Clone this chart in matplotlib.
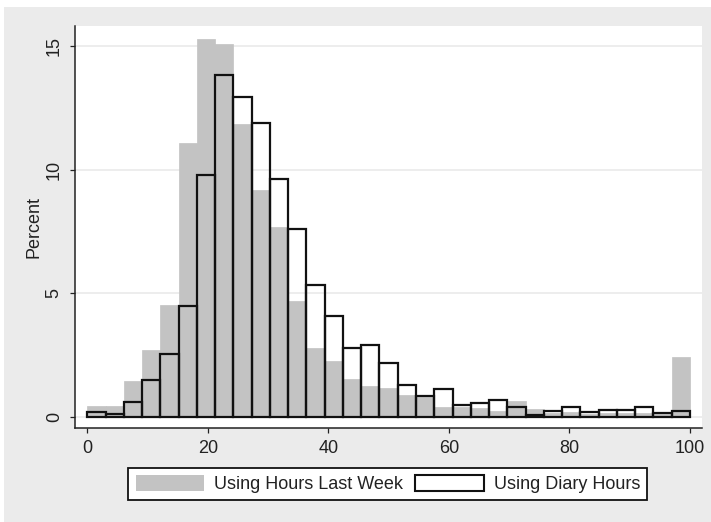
import matplotlib
matplotlib.use('Agg')
import matplotlib.pyplot as plt
from matplotlib.patches import Rectangle, Patch
import numpy as np

plt.rcParams['font.family'] = ['Liberation Sans', 'DejaVu Sans']

# ---- data (percent per bin; 33 equal bins spanning 0..100 hours) ----
bin_start = 0
bin_end = 100
n_bins = 33
hours_last_week = [0.43, 0.43, 1.46, 2.69, 4.54, 11.07, 15.31, 15.09, 11.85, 9.18,
                   7.67, 4.70, 2.80, 2.26, 1.52, 1.23, 1.16, 0.87, 0.78, 0.38,
                   0.38, 0.34, 0.25, 0.62, 0.32, 0.15, 0.20, 0.12, 0.15, 0.15,
                   0.15, 0.10, 2.42]
diary_hours = [0.18, 0.11, 0.60, 1.48, 2.54, 4.50, 9.79, 13.84, 12.94, 11.88,
               9.64, 7.59, 5.35, 4.08, 2.78, 2.90, 2.18, 1.28, 0.85, 1.14,
               0.47, 0.55, 0.67, 0.40, 0.05, 0.23, 0.40, 0.20, 0.28, 0.28,
               0.38, 0.16, 0.24]
x_ticks = [0, 20, 40, 60, 80, 100]
y_ticks = [0, 5, 10, 15]
label_a = 'Using Hours Last Week'
label_b = 'Using Diary Hours'
y_label = 'Percent'

W, H = 711, 522
fig = plt.figure(figsize=(W / 100, H / 100), dpi=100, facecolor='white')
fig.patches.append(Rectangle((4 / W, 0), 1 - 4 / W, 1 - 7 / H, transform=fig.transFigure,
                             facecolor='#ebebeb', edgecolor='none', zorder=-10))

ax = fig.add_axes([75 / W, 1 - 428 / H, (702 - 75) / W, (428 - 26) / H])
ax.set_facecolor('white')

width = (bin_end - bin_start) / n_bins
lefts = bin_start + width * np.arange(n_bins)

gray = '#c3c3c3'
ax.bar(lefts, hours_last_week, width=width, align='edge', color=gray,
       edgecolor=gray, linewidth=0.5, zorder=2)
ax.bar(lefts, diary_hours, width=width, align='edge', fill=False,
       edgecolor='#111111', linewidth=1.6, zorder=3)

ax.set_xlim(-2.04, 102.0)
ax.set_ylim(-0.458, 15.82)
ax.set_xticks(x_ticks)
ax.set_yticks(y_ticks)
ax.yaxis.grid(True, color='#ececec', linewidth=1.3, zorder=0)
ax.set_axisbelow(True)

for s in ['top', 'right']:
    ax.spines[s].set_visible(False)
for s in ['left', 'bottom']:
    ax.spines[s].set_linewidth(1.1)
    ax.spines[s].set_color('#222222')

ax.tick_params(axis='both', direction='out', length=3.8, width=0.9, color='#222222',
               labelsize=13, labelcolor='#222222')
ax.tick_params(axis='x', pad=5)
ax.tick_params(axis='y', pad=5)
for lab in ax.get_yticklabels():
    lab.set_rotation(90)
    lab.set_va('center')

ax.set_ylabel(y_label, fontsize=13, color='#222222', labelpad=2)

handles = [Patch(facecolor=gray, edgecolor='none'),
           Patch(facecolor='white', edgecolor='#111111', linewidth=1.5)]
leg = fig.legend(handles, [label_a, label_b], loc='center',
                 bbox_to_anchor=(387.7 / W, 1 - 484.2 / H), ncol=2,
                 frameon=True, fancybox=False, edgecolor='#111111', framealpha=1,
                 facecolor='white', fontsize=13, handlelength=3.78, handleheight=0.94,
                 handletextpad=0.55, columnspacing=0.7, borderpad=0.4)
leg.get_frame().set_linewidth(1.3)
for t in leg.get_texts():
    t.set_color('#222222')

fig.savefig('out.png', dpi=100, facecolor='white')
